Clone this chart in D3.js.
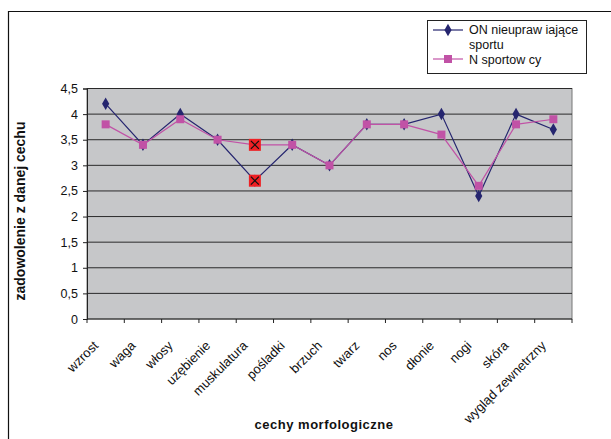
<!DOCTYPE html>
<html>
<head>
<meta charset="utf-8">
<script src="https://cdn.jsdelivr.net/npm/d3@7"></script>
<style>
  body { margin: 0; background: #fff; }
  svg { font-family: "Liberation Sans", Arial, sans-serif; }
</style>
</head>
<body>
<svg id="chart" width="611" height="439"></svg>
<script>
// data
let categories = ["wzrost", "waga", "włosy", "uzębienie", "muskulatura", "pośladki", "brzuch",
  "twarz", "nos", "dłonie", "nogi", "skóra", "wygląd zewnetrzny"];
let onValues = [4.2, 3.4, 4.0, 3.5, 2.7, 3.4, 3.0, 3.8, 3.8, 4.0, 2.4, 4.0, 3.7];
let nValues = [3.8, 3.4, 3.9, 3.5, 3.4, 3.4, 3.0, 3.8, 3.8, 3.6, 2.6, 3.8, 3.9];
let yTicks = [0, 0.5, 1, 1.5, 2, 2.5, 3, 3.5, 4, 4.5];
let highlighted = ["muskulatura"];

let svg = d3.select("#chart");
let pLeft = 87, pRight = 572, pTop = 88.5, pBottom = 319;

let x = d3.scaleBand().domain(categories).range([pLeft, pRight]);
let y = d3.scaleLinear().domain([0, 4.5]).range([pBottom, pTop]);
let fmt = d => String(d).replace(".", ",");

// outer frame (top + left only)
svg.append("path").attr("d", "M8.5,439 V11.5 H611")
  .attr("fill", "none").attr("stroke", "#111").attr("stroke-width", 1.2);

// plot area
svg.append("rect").attr("x", pLeft).attr("y", pTop)
  .attr("width", pRight - pLeft).attr("height", pBottom - pTop)
  .attr("fill", "#c6c7c9").attr("stroke", "#777").attr("stroke-width", 1);

svg.append("g").selectAll("line").data(yTicks.filter(d => d > 0)).enter().append("line")
  .attr("x1", pLeft).attr("x2", pRight)
  .attr("y1", d => y(d)).attr("y2", d => y(d))
  .attr("stroke", "#2a2a2a").attr("stroke-width", 1);

// y axis
let yAxis = svg.append("g").attr("transform", `translate(${pLeft},0)`)
  .call(d3.axisLeft(y).tickValues(yTicks).tickFormat(fmt).tickSize(4).tickPadding(5));
yAxis.select(".domain").attr("stroke", "#222");
yAxis.selectAll("line").attr("stroke", "#222");
yAxis.selectAll("text").attr("font-size", 12.5).attr("fill", "#111");

// x axis: ticks at band boundaries
let xAxis = svg.append("g");
xAxis.append("line").attr("x1", pLeft).attr("x2", pRight).attr("y1", pBottom).attr("y2", pBottom)
  .attr("stroke", "#222");
xAxis.selectAll(".tk").data(d3.range(categories.length + 1)).enter().append("line")
  .attr("x1", i => pLeft + i * x.step()).attr("x2", i => pLeft + i * x.step())
  .attr("y1", pBottom).attr("y2", pBottom + 4).attr("stroke", "#222");
xAxis.selectAll(".lbl").data(categories).enter().append("text")
  .attr("transform", d => `translate(${x(d) + x.bandwidth() / 2 - 13},${pBottom + 21}) rotate(-45)`)
  .attr("text-anchor", "end").attr("dy", "0.7em")
  .attr("font-size", 13).attr("fill", "#111")
  .text(d => d);

// axis titles
svg.append("text").attr("transform", "translate(25,211) rotate(-90)")
  .attr("text-anchor", "middle").attr("font-size", 14).attr("font-weight", "bold")
  .attr("fill", "#111").text("zadowolenie z danej cechu");
svg.append("text").attr("x", 324).attr("y", 429)
  .attr("text-anchor", "middle").attr("font-size", 13).attr("font-weight", "bold")
  .attr("fill", "#111").attr("letter-spacing", 0.5).text("cechy morfologiczne");

let navy = "#25256f", magenta = "#c152a6";
let cx = (d, i) => x(categories[i]) + x.bandwidth() / 2;
let line = vals => d3.line().x((d, i) => cx(d, i)).y(d => y(d))(vals);

svg.append("path").attr("d", line(onValues)).attr("fill", "none")
  .attr("stroke", navy).attr("stroke-width", 1.2);
svg.append("path").attr("d", line(nValues)).attr("fill", "none")
  .attr("stroke", magenta).attr("stroke-width", 1.2);

let diamond = d3.symbol().type(d3.symbolDiamond).size(45);
svg.append("g").selectAll("path").data(onValues).enter().append("path")
  .attr("d", diamond)
  .attr("transform", (d, i) => `translate(${cx(d, i)},${y(d)})`)
  .attr("fill", navy);
svg.append("g").selectAll("rect").data(nValues).enter().append("rect")
  .attr("x", (d, i) => cx(d, i) - 4).attr("y", d => y(d) - 4)
  .attr("width", 8).attr("height", 8).attr("fill", magenta);

// highlighted markers
highlighted.forEach(c => {
  let i = categories.indexOf(c);
  [onValues[i], nValues[i]].forEach(v => {
    let px = x(c) + x.bandwidth() / 2, py = y(v);
    svg.append("rect").attr("x", px - 6).attr("y", py - 6).attr("width", 12).attr("height", 12)
      .attr("fill", "#ee2024");
    svg.append("path").attr("d", `M${px - 4},${py - 4}L${px + 4},${py + 4}M${px + 4},${py - 4}L${px - 4},${py + 4}`)
      .attr("stroke", "#111").attr("stroke-width", 1.2);
  });
});

// legend
let lg = svg.append("g");
lg.append("rect").attr("x", 427.5).attr("y", 20.5).attr("width", 159).attr("height", 53)
  .attr("fill", "#fff").attr("stroke", "#222");
lg.append("line").attr("x1", 433).attr("x2", 463).attr("y1", 30).attr("y2", 30)
  .attr("stroke", navy).attr("stroke-width", 1.2);
lg.append("path").attr("d", diamond).attr("transform", "translate(448,30)").attr("fill", navy);
lg.append("text").attr("x", 469).attr("y", 34).attr("font-size", 12.5).attr("fill", "#111")
  .text("ON nieupraw iające");
lg.append("text").attr("x", 469).attr("y", 49).attr("font-size", 12.5).attr("fill", "#111")
  .text("sportu");
lg.append("line").attr("x1", 433).attr("x2", 463).attr("y1", 59).attr("y2", 59)
  .attr("stroke", magenta).attr("stroke-width", 1.2);
lg.append("rect").attr("x", 444).attr("y", 55).attr("width", 8).attr("height", 8).attr("fill", magenta);
lg.append("text").attr("x", 469).attr("y", 64).attr("font-size", 12.5).attr("fill", "#111")
  .text("N sportow cy");
</script>
</body>
</html>
